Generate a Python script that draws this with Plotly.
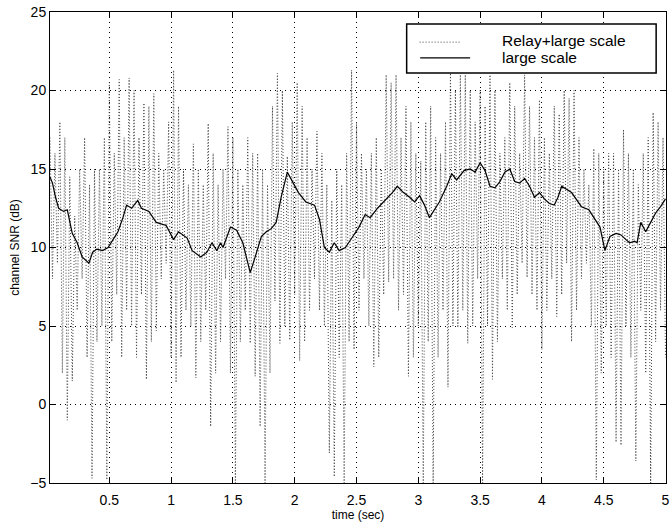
import plotly.graph_objects as go

# ---- data ----
# fast-fading "Relay+large scale" signal: alternating local peaks / troughs, sampled every 0.02 s from t=0.02
relay_step = 0.02
relay_start = 0.02
relay_peaks = [17, 16, 18, 17, 14.5, 12, 15, 17, 14, 15,
               15, 17, 20.5, 16, 20.7, 17, 20.8, 20, 17, 19.2,
               19, 19.8, 16, 15, 18, 21.3, 19, 15, 14, 16.6,
               15, 14, 17.9, 16, 14, 15, 17.7, 17, 15, 14,
               17, 16, 16, 15, 14, 19, 21.1, 20, 15.8, 18,
               20.5, 19, 17, 15, 17.4, 16, 14, 13, 15, 14,
               16, 21.3, 18, 16, 15, 16, 17, 15, 21, 20.5,
               21, 17, 19, 18, 16, 15.5, 18, 19, 17, 16,
               18, 21.3, 20, 21, 21, 20, 18, 20, 19, 21,
               20, 16, 17, 20.5, 19, 16, 21, 19, 17, 19.4,
               17, 16, 19, 18.5, 20, 19.5, 20, 17, 15, 14,
               16.3, 16, 15, 16, 16, 15, 17.5, 16, 15, 14,
               16, 17, 18.6, 18, 17]
relay_troughs = [8, 9, 2, -1, 1.5, 6, 8, 3, -4.7, 4,
                 5, -4.8, 4, 7, 3, 6, 5, 3, 7, 1.6,
                 4, 4.7, 8, 9, 3, 1.4, 3, 6, 5, 1.7,
                 4, 6, -1.4, 2, 4, 8, 2, -5, 4, 6,
                 3.9, 1.8, -1.4, -5, 2, 6.6, 3.9, 5, 4.1, 7,
                 2.8, 4, 6, 8, 6, 5, -3.1, -4.6, 3, -5,
                 4, 3.5, 6, 8, 5, 2.4, 3, 7, 7.8, 8,
                 6, 7, 1.8, 3, 5, -5, 4, -5, 3, 6,
                 1.1, 5, 4.9, 6, 3.9, 5, 8, -5, 5, 1.6,
                 4, 8, 6, 4.9, 7, 9, 8.1, 7, 6, 3.5,
                 6, 8, 5.6, 7, 9, 4, 6, 8, 9, 5,
                 -4.8, 2, 5, 3, -2.4, -2.6, 5, 3, -3.6, 6,
                 2, -5, 4, 6, 3]

# slowly varying "large scale" curve
large_t = [0.02, 0.04, 0.065, 0.09, 0.13, 0.16, 0.20, 0.24, 0.28, 0.31,
           0.335, 0.365, 0.40, 0.445, 0.49, 0.53, 0.57, 0.61, 0.64, 0.68,
           0.73, 0.76, 0.82, 0.88, 0.96, 1.02, 1.06, 1.13, 1.17, 1.24,
           1.29, 1.33, 1.37, 1.40, 1.42, 1.48, 1.53, 1.58, 1.64, 1.68,
           1.73, 1.77, 1.81, 1.85, 1.89, 1.94, 1.99, 2.03, 2.09, 2.16,
           2.20, 2.24, 2.28, 2.32, 2.36, 2.41, 2.47, 2.52, 2.57, 2.61,
           2.67, 2.72, 2.79, 2.83, 2.88, 2.93, 2.97, 3.01, 3.05, 3.09,
           3.13, 3.17, 3.23, 3.27, 3.31, 3.37, 3.42, 3.46, 3.50, 3.54,
           3.58, 3.62, 3.66, 3.70, 3.74, 3.78, 3.82, 3.86, 3.90, 3.94,
           3.98, 4.02, 4.06, 4.10, 4.13, 4.16, 4.24, 4.32, 4.38, 4.43,
           4.47, 4.51, 4.55, 4.60, 4.64, 4.68, 4.71, 4.75, 4.77, 4.80,
           4.84, 4.88, 4.92, 4.96, 5.0]
large_snr = [14.5, 14.1, 13.2, 12.5, 12.3, 12.4, 10.9, 10.3, 9.4, 9.2,
             9.0, 9.7, 9.9, 9.8, 10.0, 10.5, 11.0, 11.9, 12.7, 12.5,
             13.0, 12.5, 12.3, 11.6, 11.4, 10.5, 11.0, 10.6, 9.8, 9.4,
             9.7, 10.3, 9.8, 10.3, 10.0, 11.3, 11.1, 10.3, 8.4, 9.4,
             10.7, 11.0, 11.2, 11.6, 13.2, 14.8, 14.1, 13.5, 12.9, 12.7,
             11.8, 10.0, 9.7, 10.3, 9.8, 10.0, 10.7, 11.3, 12.1, 11.9,
             12.5, 12.9, 13.5, 13.9, 13.5, 13.2, 12.9, 13.3, 12.7, 11.9,
             12.4, 12.9, 13.9, 14.7, 14.3, 14.9, 15.0, 14.8, 15.4, 14.9,
             13.9, 13.8, 14.2, 14.8, 15.0, 14.2, 14.1, 14.4, 13.9, 13.2,
             13.5, 13.1, 12.8, 12.7, 13.2, 13.9, 13.5, 12.6, 12.4, 11.8,
             11.3, 9.8, 10.7, 10.9, 10.8, 10.5, 10.3, 10.4, 10.3, 11.6,
             11.0, 11.6, 12.2, 12.6, 13.1]

x_ticks = [0.5, 1, 1.5, 2, 2.5, 3, 3.5, 4, 4.5, 5]
y_ticks = [-5, 0, 5, 10, 15, 20, 25]
legend_labels = ["Relay+large scale", "large scale"]

# interleave peaks and troughs into one sampled series
relay_snr = []
for p, t in zip(relay_peaks, relay_troughs):
    relay_snr += [p, t]
relay_t = [round(relay_start + i * relay_step, 4) for i in range(len(relay_snr))]

FONT = "Liberation Sans, Arial, Helvetica, sans-serif"

fig = go.Figure()
fig.add_trace(go.Scatter(x=relay_t, y=relay_snr, mode="lines", name=legend_labels[0],
                         line=dict(color="#444444", width=1, dash="1px,2px"),
                         showlegend=False))
fig.add_trace(go.Scatter(x=large_t, y=large_snr, mode="lines", name=legend_labels[1],
                         line=dict(color="black", width=1.2),
                         showlegend=False))

axis_common = dict(showline=True, linecolor="black", linewidth=1, mirror="allticks",
                   ticks="inside", ticklen=5, tickcolor="black", tickwidth=1,
                   showgrid=True, gridcolor="black", gridwidth=1, griddash="1px,4px",
                   zeroline=False, ticklabeloverflow="allow",
                   tickfont=dict(family=FONT, size=14, color="black"))

fig.update_xaxes(range=[0.02, 5.004], tickvals=x_ticks, ticktext=[f"{v:g}" for v in x_ticks],
                 title=dict(text="time (sec)", font=dict(family=FONT, size=12, color="black"),
                            standoff=2),
                 ticklabelstandoff=4, automargin=False, **axis_common)
fig.update_yaxes(range=[-5, 25], tickvals=y_ticks,
                 title=dict(text="channel SNR (dB)", font=dict(family=FONT, size=12, color="black"),
                            standoff=8),
                 automargin=False, **axis_common)

# legend drawn as a boxed key (paper coords relative to plot area)
fig.add_shape(type="rect", xref="paper", yref="paper", x0=0.579, x1=0.984, y0=0.8705, y1=0.9745,
              line=dict(color="black", width=1.5), fillcolor="white", layer="above")
fig.add_shape(type="line", xref="paper", yref="paper", x0=0.600, x1=0.667, y0=0.936, y1=0.936,
              line=dict(color="#444444", width=1, dash="1px,2px"), layer="above")
fig.add_shape(type="line", xref="paper", yref="paper", x0=0.601, x1=0.682, y0=0.9025, y1=0.9025,
              line=dict(color="black", width=1.2), layer="above")
fig.add_annotation(xref="paper", yref="paper", x=0.731, y=0.939, text=legend_labels[0],
                   showarrow=False, xanchor="left", yanchor="middle",
                   font=dict(family=FONT, size=15.5, color="black"))
fig.add_annotation(xref="paper", yref="paper", x=0.731, y=0.9025, text=legend_labels[1],
                   showarrow=False, xanchor="left", yanchor="middle",
                   font=dict(family=FONT, size=15.5, color="black"))

fig.update_layout(width=671, height=523, margin=dict(l=50, r=5, t=12, b=40),
                  paper_bgcolor="white", plot_bgcolor="white",
                  font=dict(family=FONT, color="black"))

fig.write_html("out.html")
